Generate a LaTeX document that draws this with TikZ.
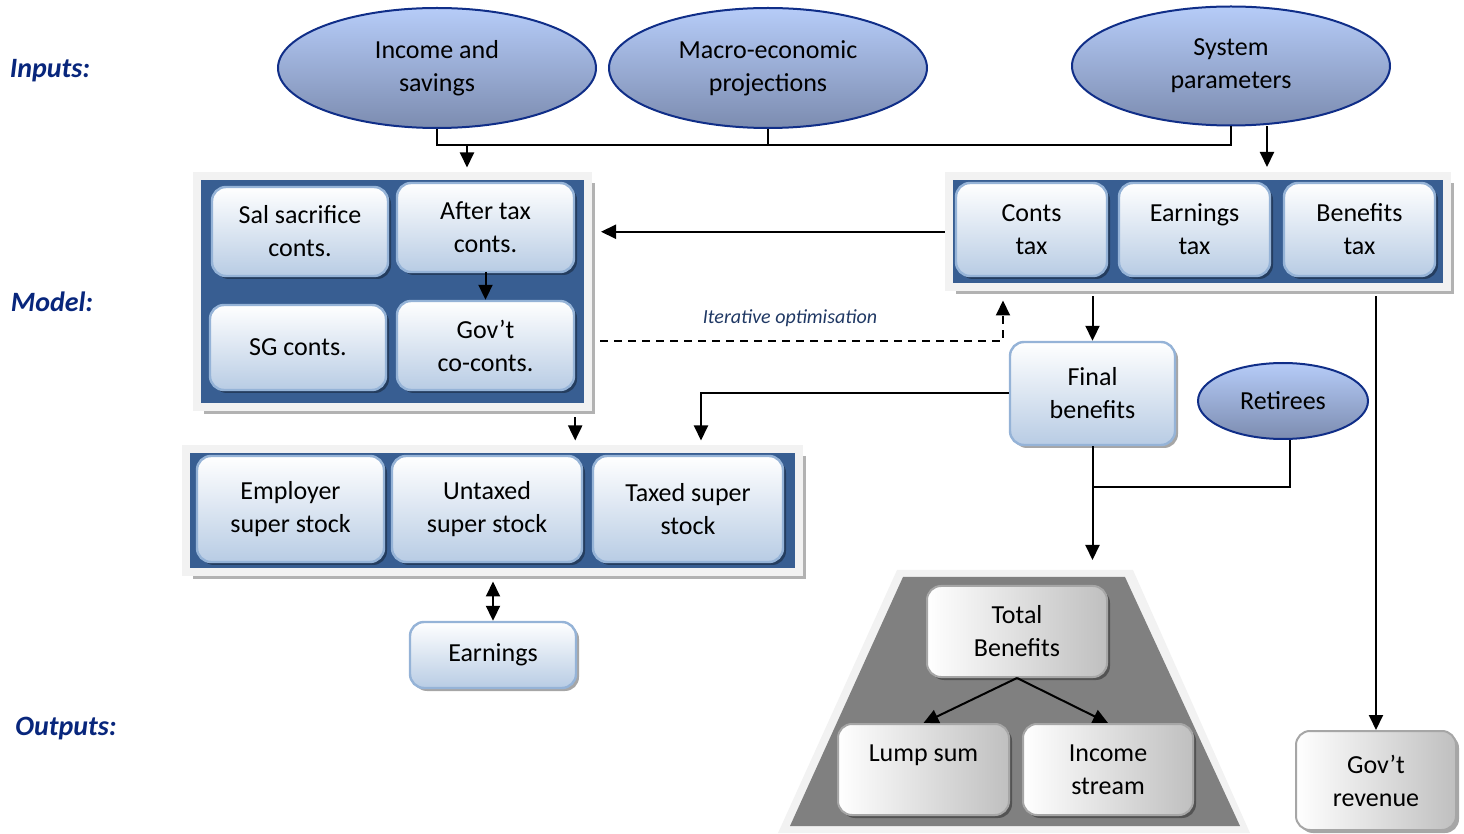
\documentclass[tikz,border=0pt]{standalone}
\usepackage{fontspec}
\setmainfont{Carlito}
\usetikzlibrary{shapes.geometric,shadows,arrows.meta}
\definecolor{panelblue}{RGB}{56,94,146}
\definecolor{boxedge}{RGB}{149,179,215}
\definecolor{boxlow}{RGB}{184,204,228}
\definecolor{ovaltop}{RGB}{182,204,248}
\definecolor{ovallow}{RGB}{124,140,176}
\definecolor{ovaledge}{RGB}{16,46,136}
\definecolor{rownavy}{RGB}{8,38,124}
\definecolor{notenavy}{RGB}{31,56,100}
\definecolor{trapgray}{RGB}{128,128,128}
\tikzset{
  oval/.style={ellipse, draw=ovaledge, line width=1pt, top color=ovaltop, bottom color=ovallow,
    inner sep=0pt, align=center, font=\fontsize{13}{16.5}\selectfont},
  panel/.style={draw=black!5, line width=4pt, fill=panelblue, inner sep=0pt,
    drop shadow={shadow xshift=3.5pt, shadow yshift=-3.5pt, fill=black!30, opacity=1}},
  subbox/.style={draw=boxedge, line width=1.2pt, rounded corners=7pt, top color=white, bottom color=boxlow,
    inner sep=0pt, align=center, font=\fontsize{13}{16.5}\selectfont,
    drop shadow={shadow xshift=1.5pt, shadow yshift=-1.5pt, fill=black, opacity=0.35}},
  greybox/.style={draw=black!35, line width=1pt, rounded corners=7pt, left color=white, right color=black!25,
    inner sep=0pt, align=center, font=\fontsize{13}{16.5}\selectfont,
    drop shadow={shadow xshift=1.5pt, shadow yshift=-1.5pt, fill=black, opacity=0.35}},
  arr/.style={-{Triangle[length=7.5pt,width=7pt]}, line width=1pt},
  rowlabel/.style={font=\fontsize{14}{17}\selectfont\bfseries\itshape, text=rownavy}
}
\begin{document}
\begin{tikzpicture}[x=0.5pt,y=-0.5pt]
  \useasboundingbox (0,0) rectangle (1464,834);
  % row labels
  \node[rowlabel] (lblin) at (50,71) {Inputs:};
  \node[rowlabel] (lblmod) at (52,302) {Model:};
  \node[rowlabel] (lblout) at (66,729) {Outputs:};
  % inputs
  \node[oval, minimum width=159pt, minimum height=60pt] (income) at (437,68) {Income and\\savings};
  \node[oval, minimum width=159pt, minimum height=60pt] (macro) at (768,68) {Macro-economic\\projections};
  \node[oval, minimum width=159pt, minimum height=59.5pt] (syspar) at (1231,66) {System\\parameters};
  % panels
  \node[panel, minimum width=195.5pt, minimum height=115.5pt] (contpanel) at (392.5,292) {};
  \node[panel, minimum width=249.25pt, minimum height=55.75pt] (taxpanel) at (1197.75,231.75) {};
  \node[panel, minimum width=306.75pt, minimum height=61.5pt] (stockpanel) at (492.25,511) {};
  % contributions
  \node[subbox, minimum width=88pt, minimum height=44.5pt] (salsac) at (300,231.5) {Sal sacrifice\\conts.};
  \node[subbox, minimum width=88.5pt, minimum height=44.5pt] (aftertax) at (485.5,227.5) {After tax\\conts.};
  \node[subbox, minimum width=88pt, minimum height=42.5pt] (sgconts) at (298,347.5) {SG conts.};
  \node[subbox, minimum width=88.5pt, minimum height=44.5pt] (govco) at (485.5,345.5) {Gov’t\\co-conts.};
  % taxes
  \node[subbox, minimum width=75.5pt, minimum height=46.5pt] (contstax) at (1031.5,229.5) {Conts\\tax};
  \node[subbox, minimum width=75.5pt, minimum height=46.5pt] (earntax) at (1194.5,229.5) {Earnings\\tax};
  \node[subbox, minimum width=75.5pt, minimum height=46.5pt] (bentax) at (1359.5,229.5) {Benefits\\tax};
  % stocks
  \node[subbox, minimum width=93.5pt, minimum height=53pt] (employer) at (290.5,509) {Employer\\super stock};
  \node[subbox, minimum width=95pt, minimum height=53pt] (untaxed) at (487,509) {Untaxed\\super stock};
  \node[subbox, minimum width=95pt, minimum height=53pt] (taxed) at (688,509) {Taxed super\\stock};
  \node[subbox, minimum width=83pt, minimum height=33pt] (earnings) at (493,655) {Earnings};
  % benefits
  \node[subbox, minimum width=82.5pt, minimum height=51.5pt] (finalben) at (1092.5,393.5) {Final\\benefits};
  \node[oval, minimum width=85pt, minimum height=38pt] (retirees) at (1283,401) {Retirees};
  % outputs
  \fill[black!5] (897,570) -- (1133,570) -- (1250,833) -- (778,833) -- cycle;
  \fill[trapgray] (903,577) -- (1125,577) -- (1240,826) -- (790,826) -- cycle;
  \node[greybox, minimum width=90pt, minimum height=45.5pt] (totalben) at (1017,631.5) {Total\\Benefits};
  \node[greybox, minimum width=85.5pt, minimum height=45.5pt] (lumpsum) at (923.5,769.5) {Lump sum\\\mbox{}};
  \node[greybox, minimum width=85pt, minimum height=45.5pt] (incstream) at (1108,769.5) {Income\\stream};
  \node[greybox, minimum width=80pt, minimum height=49.5pt] (govrev) at (1376,780.5) {Gov’t\\revenue};
  % connectors
  \coordinate (bus) at (0,145);
  \coordinate (feedL) at (467,145);
  \coordinate (feedR) at (1267,145);
  \draw[line width=1pt] (income.south) -- (income.south |- bus) -- (syspar.south |- bus) -- (syspar.south);
  \draw[line width=1pt] (macro.south) -- (macro.south |- bus);
  \draw[arr, shorten >=2.5pt] (feedL) -- (feedL |- contpanel.north);
  \draw[arr, shorten >=2.5pt] (syspar.south -| feedR) -- (feedR |- taxpanel.north);
  \draw[arr] (aftertax) ++(0,44.5) -- (govco.north);
  \draw[arr, shorten >=4.5pt] (taxpanel.west) -- (contpanel.east |- taxpanel.west);
  \coordinate (itr) at (1003,341);
  \draw[arr, dash pattern=on 4pt off 3pt, shorten <=4pt, shorten >=4.5pt] (contpanel.east |- itr) -- (itr) -- (itr |- taxpanel.south);
  \node[font=\fontsize{10}{12}\selectfont\itshape, text=notenavy] (itlabel) at (790,318) {Iterative optimisation};
  \draw[arr, shorten <=2.5pt] (finalben.north |- taxpanel.south) -- (finalben.north);
  \draw[arr, shorten <=2.5pt] (govrev.north |- taxpanel.south) -- (govrev.north);
  \draw[arr, shorten <=3pt, shorten >=2.5pt] (govco.east |- contpanel.south) -- (govco.east |- stockpanel.north);
  \coordinate (fbturn) at (701,396);
  \draw[arr, shorten >=2.5pt] (finalben.west) -| (fbturn |- stockpanel.north);
  \draw[{Triangle[length=7.5pt,width=7pt]}-{Triangle[length=7.5pt,width=7pt]}, line width=1pt, shorten <=2.5pt] (earnings.north |- stockpanel.south) -- (earnings.north);
  \coordinate (join) at (1093,487);
  \coordinate (trapin) at (1093,560);
  \draw[line width=1pt] ([xshift=3.5pt]retirees.south) |- (join);
  \draw[arr] (finalben.south) -- (finalben.south |- trapin);
  \draw[arr] (totalben.south) -- (lumpsum.north);
  \draw[arr] (totalben.south) -- (incstream.north);
\end{tikzpicture}
\end{document}
